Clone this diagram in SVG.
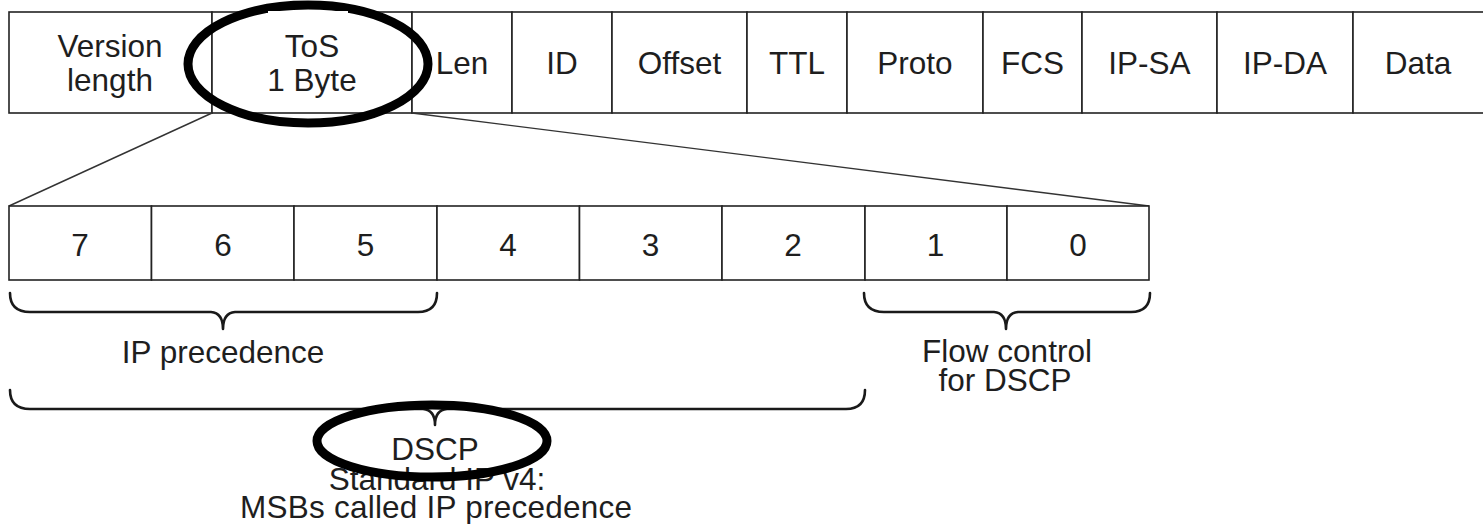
<svg xmlns="http://www.w3.org/2000/svg" width="1483" height="524" viewBox="0 0 1483 524">
<style>
.cell{fill:#fff;stroke:#222;stroke-width:1.6}
.t{font-family:"Liberation Sans",Arial,Helvetica,sans-serif;font-size:31.5px;fill:#1e1e1e;text-anchor:middle}
.ln{stroke:#333;stroke-width:1.4;fill:none}
.br{stroke:#1a1a1a;stroke-width:2.6;fill:none;stroke-linecap:round;stroke-linejoin:round}
.ring{fill:none;stroke:#000;stroke-width:9}
</style>
<rect width="1483" height="524" fill="#fff"/>
<g id="header">
  <g id="f-version"><rect class="cell" x="9" y="12" width="203" height="101"/><text class="t" x="110" y="57">Version</text><text class="t" x="110" y="91">length</text></g>
  <g id="f-tos"><rect class="cell" x="212" y="12" width="200" height="101"/><text class="t" x="312" y="57">ToS</text><text class="t" x="312" y="91">1 Byte</text></g>
  <g id="f-len"><rect class="cell" x="412" y="12" width="100" height="101"/><text class="t" x="462" y="74">Len</text></g>
  <g id="f-id"><rect class="cell" x="512" y="12" width="100" height="101"/><text class="t" x="562" y="74">ID</text></g>
  <g id="f-offset"><rect class="cell" x="612" y="12" width="135" height="101"/><text class="t" x="679.5" y="74">Offset</text></g>
  <g id="f-ttl"><rect class="cell" x="747" y="12" width="100" height="101"/><text class="t" x="797" y="74">TTL</text></g>
  <g id="f-proto"><rect class="cell" x="847" y="12" width="136" height="101"/><text class="t" x="915" y="74">Proto</text></g>
  <g id="f-fcs"><rect class="cell" x="983" y="12" width="99" height="101"/><text class="t" x="1032.5" y="74">FCS</text></g>
  <g id="f-ipsa"><rect class="cell" x="1082" y="12" width="135" height="101"/><text class="t" x="1149.5" y="74">IP-SA</text></g>
  <g id="f-ipda"><rect class="cell" x="1217" y="12" width="136" height="101"/><text class="t" x="1285" y="74">IP-DA</text></g>
  <g id="f-data"><rect class="cell" x="1353" y="12" width="140" height="101"/><text class="t" x="1418" y="74">Data</text></g>
</g>
<g id="connectors">
  <line class="ln" x1="212" y1="113" x2="9" y2="206"/>
  <line class="ln" x1="412" y1="113" x2="1149" y2="206"/>
</g>
<g id="bits">
  <g id="b7"><rect class="cell" x="9" y="206" width="142.5" height="74"/><text class="t" x="80" y="256">7</text></g>
  <g id="b6"><rect class="cell" x="151.5" y="206" width="142.5" height="74"/><text class="t" x="223" y="256">6</text></g>
  <g id="b5"><rect class="cell" x="294" y="206" width="143" height="74"/><text class="t" x="365.5" y="256">5</text></g>
  <g id="b4"><rect class="cell" x="437" y="206" width="142.5" height="74"/><text class="t" x="508" y="256">4</text></g>
  <g id="b3"><rect class="cell" x="579.5" y="206" width="142.5" height="74"/><text class="t" x="650.5" y="256">3</text></g>
  <g id="b2"><rect class="cell" x="722" y="206" width="143" height="74"/><text class="t" x="793" y="256">2</text></g>
  <g id="b1"><rect class="cell" x="865" y="206" width="142" height="74"/><text class="t" x="935.5" y="256">1</text></g>
  <g id="b0"><rect class="cell" x="1007" y="206" width="142" height="74"/><text class="t" x="1078" y="256">0</text></g>
</g>
<g id="braces">
  <path class="br" d="M10,293 Q10,312 30,312 L211,312 Q223,313 223,329 Q223,313 235,312 L418,312 Q437,312 437,293"/>
  <path class="br" d="M10,390 Q10,409 30,409 L423,409 Q435,410 435,425 Q435,410 447,409 L846,409 Q865,409 865,390"/>
  <path class="br" d="M864,293 Q864,312 884,312 L994,312 Q1006,313 1006,329 Q1006,313 1018,312 L1131,312 Q1150,312 1150,293"/>
</g>
<g id="labels">
  <text class="t" x="223" y="363">IP precedence</text>
  <text class="t" x="1007" y="362">Flow control</text>
  <text class="t" x="1005" y="391">for DSCP</text>
  <text class="t" x="435" y="460">DSCP</text>
  <text class="t" x="437" y="490">Standard IP v4:</text>
  <text class="t" x="436" y="518" textLength="392" lengthAdjust="spacing">MSBs called IP precedence</text>
</g>
<g id="highlights">
  <ellipse class="ring" cx="308" cy="64" rx="120" ry="59"/>
  <rect x="268" y="11" width="80" height="2.5" fill="#fff"/>
  <rect x="285" y="114" width="50" height="2.5" fill="#fff"/>
  <ellipse class="ring" cx="432" cy="441" rx="115" ry="36"/>
</g>
</svg>
